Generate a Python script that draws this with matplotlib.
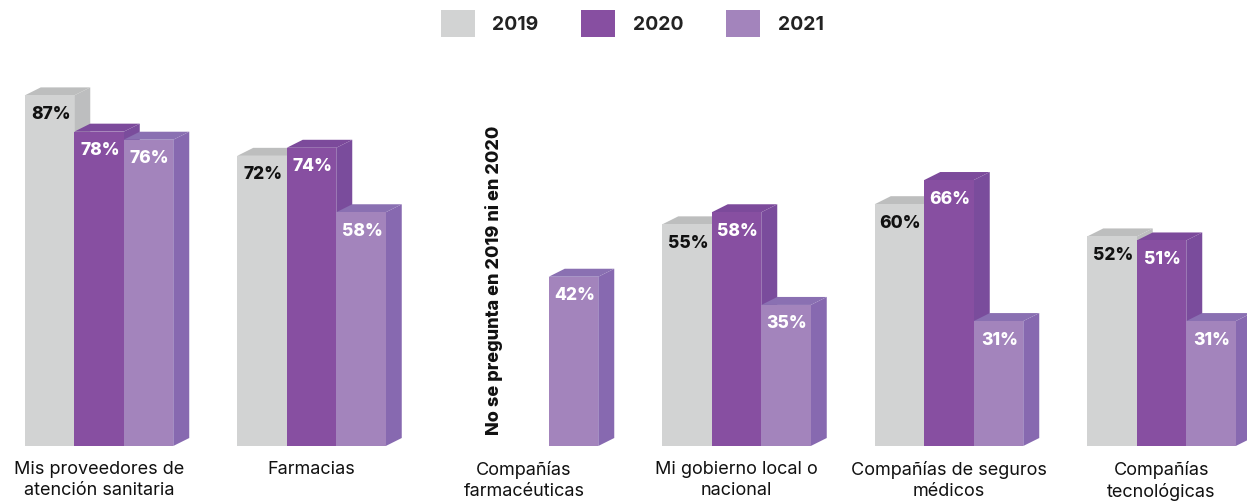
import numpy as np
import matplotlib.pyplot as plt
from matplotlib.patches import Polygon, Patch

plt.rcParams['font.family'] = ['Inter', 'DejaVu Sans']

categories = ["Mis proveedores de\natención sanitaria", "Farmacias",
              "Compañías\nfarmacéuticas", "Mi gobierno local o\nnacional",
              "Compañías de seguros\nmédicos", "Compañías\ntecnológicas"]
years = ["2019", "2020", "2021"]
v2019 = [87, 72, np.nan, 55, 60, 52]
v2020 = [78, 74, np.nan, 58, 66, 51]
v2021 = [76, 58, 42, 35, 31, 31]
note = "No se pregunta en 2019 ni en 2020"

# front / top / side shades for each series
front = ["#D2D3D3", "#874FA1", "#A384BC"]
top = ["#BDBEBE", "#7C4A9B", "#8A70B2"]
side = ["#BDBEBF", "#7A4C9C", "#8769B0"]
txt_col = ["#111111", "white", "white"]

W, H = 1247, 503
fig = plt.figure(figsize=(W / 100, H / 100), dpi=100)
base_px = 57           # baseline, pixels from bottom
top_px = 60            # axes top, pixels from top
ax = fig.add_axes([0, base_px / H, 1, (H - base_px - top_px) / H])

px_per_unit_x = 212.5
px_per_unit_y = 4.03
x0_px = 99
ax.set_xlim(-x0_px / px_per_unit_x, (W - x0_px) / px_per_unit_x)
ax.set_ylim(0, (H - base_px - top_px) / px_per_unit_y)

bw = 49.5 / px_per_unit_x
dx = 16 / px_per_unit_x
dy = 8 / px_per_unit_y

x = np.arange(len(categories))
series = [v2019, v2020, v2021]
for i, vals in enumerate(series):
    xs = x + (i - 1) * bw
    for xc, v in zip(xs, vals):
        if np.isnan(v):
            continue
        l, r = xc - bw / 2, xc + bw / 2
        z = 2 + i * 2
        ax.add_patch(Polygon([(r, 0), (r + dx, dy), (r + dx, v + dy), (r, v)],
                             closed=True, fc=side[i], ec='none', zorder=z, clip_on=False))
        ax.add_patch(Polygon([(l, v), (l + dx, v + dy), (r + dx, v + dy), (r, v)],
                             closed=True, fc=top[i], ec='none', zorder=z, clip_on=False))
        ax.bar(xc, v, width=bw, color=front[i], zorder=z + 1, clip_on=False)
        ax.text(xc + 1 / px_per_unit_x, v - 19 / px_per_unit_y, f"{v:.0f}%",
                ha='center', va='center', fontsize=12.5, fontweight='heavy',
                color=txt_col[i], zorder=z + 1)

# note where the first two years were not asked
ax.text(x[2] - bw * 0.6, 11 / px_per_unit_y, note, rotation=90, ha='center',
        va='bottom', fontsize=13, fontweight='heavy', color='#111111')

ax.set_xticks(x)
ax.set_xticklabels(categories, fontsize=13, color='#111111', linespacing=1.3,
                   va='top')
ax.tick_params(axis='x', length=0, pad=11)
ax.set_yticks([])
for s in ax.spines.values():
    s.set_visible(False)

handles = [Patch(facecolor=c, edgecolor='none') for c in front]
leg = fig.legend(handles, years, loc='center', bbox_to_anchor=(0.507, 1 - 23.5 / H),
                 ncol=3, frameon=False, handlelength=1.75, handleheight=1.75,
                 handletextpad=0.9, columnspacing=2.2,
                 prop={'size': 14, 'weight': 'bold'})
for t in leg.get_texts():
    t.set_color('#222222')

fig.savefig("out.png", dpi=100)
